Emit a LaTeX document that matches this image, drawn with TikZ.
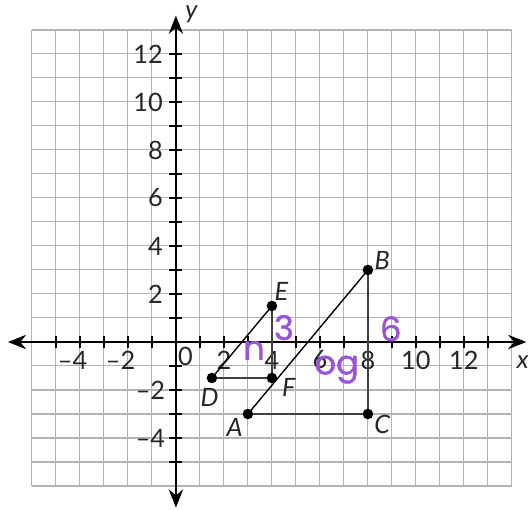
\documentclass[tikz,border=0pt]{standalone}
\usepackage{fontspec}
\setmainfont{Lato}
\newfontfamily\handfont{Poppins}[FakeBold=1.2]
\usepackage{tikz}
\usetikzlibrary{arrows.meta}
\definecolor{gridgray}{HTML}{B4B4B4}
\definecolor{penpurple}{HTML}{9A55D6}
\tikzset{grid line/.style={gridgray,line width=0.6pt},
 axis/.style={{Stealth[length=3.8mm,width=3mm]}-{Stealth[length=3.8mm,width=3mm]},line width=1pt},
 tck/.style={line width=0.8pt},
 seg/.style={line width=0.8pt},
 leg/.style={black!75,line width=0.8pt},
 dot/.style={circle,fill=black,inner sep=0pt,minimum size=2.2mm},
 num/.style={font=\fontsize{15}{17}\selectfont,text=black!85},
 ptlab/.style={font=\fontsize{15}{17}\selectfont\itshape,text=black!85},
 hand/.style={font=\handfont\fontsize{20}{22}\selectfont,text=penpurple}}

\begin{document}
\begin{tikzpicture}[x=0.5cm,y=0.5cm]
\useasboundingbox (-7.33,-6.96) rectangle (14.67,14.25);
% grid
\draw[grid line,step=0.5cm] (-6,-6) grid (14,13);
% axes
\draw[axis] (-7,0) -- (14.6,0);
\draw[axis] (0,-6.9) -- (0,13.6);
\foreach \i in {-5,...,13} {\draw[tck] (\i,-0.27) -- (\i,0.27);}
\foreach \j in {-5,...,12} {\draw[tck] (-0.27,\j) -- (0.27,\j);}
\foreach \i in {2,4,...,12} {\node[num] (x\i) at (\i,-0.75) {\i};}
\foreach \i in {2,4} {\node[num] (xm\i) at (-\i,-0.75) {\llap{–}\i};}
\foreach \j in {2,4,...,12} {\node[num,anchor=east] (y\j) at (-0.3,\j) {\j};}
\foreach \j in {2,4} {\node[num,anchor=east] (ym\j) at (-0.2,-\j) {–\j};}
\node[num] (o) at (0.4,-0.6) {0};
\node[ptlab] (xl) at (14.45,-0.85) {x};
\node[ptlab,inner sep=0pt] (yl) at (0.65,13.65) {y};
% points
\coordinate (A) at (3,-3);
\coordinate (B) at (8,3);
\coordinate (C) at (8,-3);
\coordinate (D) at (1.5,-1.5);
\coordinate (E) at (4,1.5);
\coordinate (F) at (4,-1.5);
\draw[seg] (A) -- (B);
\draw[leg] (A) -- (C) -- (B);
\draw[seg] (D) -- (E);
\draw[leg] (D) -- (F) -- (E);
\foreach \p in {A,B,C,D,E,F} {\node[dot] (d\p) at (\p) {};}
\node[ptlab] (lA) at (2.45,-3.55) {A};
\node[ptlab] (lB) at (8.6,3.4) {B};
\node[ptlab] (lC) at (8.6,-3.45) {C};
\node[ptlab] (lD) at (1.4,-2.3) {D};
\node[ptlab] (lE) at (4.4,2.1) {E};
\node[ptlab] (lF) at (4.7,-1.9) {F};
% handwritten notes
\node[hand] (hn) at (3.25,-0.35) {n};
\node[hand] (h3) at (4.5,0.6) {3};
\node[hand] (h6) at (8.95,0.55) {6};
\node[hand] (hog) at (6.7,-1.15) {og};
\end{tikzpicture}
\end{document}
